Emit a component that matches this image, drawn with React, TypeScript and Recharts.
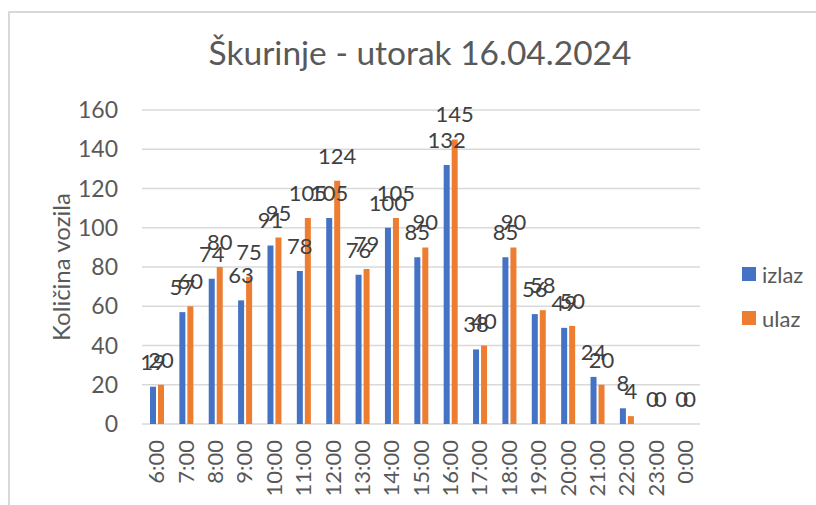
import React from "react";
import { BarChart, Bar, XAxis, YAxis, CartesianGrid, Legend, LabelList } from "recharts";

const categories = ["6:00","7:00","8:00","9:00","10:00","11:00","12:00","13:00","14:00","15:00","16:00","17:00","18:00","19:00","20:00","21:00","22:00","23:00","0:00"];
const izlaz = [19,57,74,63,91,78,105,76,100,85,132,38,85,56,49,24,8,0,0];
const ulaz = [20,60,80,75,95,105,124,79,105,90,145,40,90,58,50,20,4,0,0];
const yTicks = [0,20,40,60,80,100,120,140,160];

const seriesNames = ["izlaz", "ulaz"];
const colors = ["#4472C4", "#ED7D31"];
const FONT = "Lato, 'Liberation Sans', sans-serif";

const data = categories.map((c, i) => ({ cat: c, izlaz: izlaz[i], ulaz: ulaz[i] }));

const XTick = (props: any) => {
  const { x, y, payload } = props;
  return (
    <g transform={`translate(${x},${y})`}>
      <text transform="rotate(-90)" x={0} y={0} dy="0.35em" textAnchor="end" fill="#595959" fontSize={22} fontFamily={FONT}>
        {payload.value}
      </text>
    </g>
  );
};

const BarLabel = (props: any) => {
  const { x, y, width, value } = props;
  if (value === undefined || value === null) return null;
  return (
    <text x={Number(x) + Number(width) / 2} y={Number(y) - 17} textAnchor="middle" fill="#404040" fontSize={22} fontFamily={FONT}>
      {String(value)}
    </text>
  );
};

const LegendContent = () => (
  <div style={{ fontFamily: FONT, fontSize: 22, color: "#595959" }}>
    {seriesNames.map((n, i) => (
      <div key={n} style={{ display: "flex", alignItems: "center", height: 26, marginBottom: i === 0 ? 18 : 0 }}>
        <span style={{ display: "inline-block", width: 14, height: 14, background: colors[i], marginRight: 6 }} />
        <span>{n}</span>
      </div>
    ))}
  </div>
);

export default function App() {
  return (
    <div style={{ position: "fixed", left: 0, top: 0, width: 816, height: 505, background: "#fff", overflow: "hidden" }}>
      <div style={{ position: "absolute", left: 8, top: 11, width: 900, height: 600, borderLeft: "2px solid #d9d9d9", borderTop: "2px solid #d9d9d9" }} />
      <div style={{ position: "absolute", left: 0, top: 31, width: 840, textAlign: "center", fontFamily: FONT, fontSize: 33.5, color: "#595959", lineHeight: "42px" }}>
        Škurinje - utorak 16.04.2024
      </div>
      <div style={{ position: "absolute", left: 0, top: 0 }}>
        <BarChart width={816} height={505} data={data} margin={{ top: 110, right: 116, left: 20, bottom: 0 }} barSize={6} barGap={2}>
          <CartesianGrid vertical={false} stroke="#d9d9d9" strokeWidth={1.5} />
          <XAxis dataKey="cat" axisLine={false} tickLine={false} height={81} interval={0} tick={<XTick />} tickMargin={10} />
          <YAxis
            domain={[0, 160]}
            ticks={yTicks}
            axisLine={false}
            tickLine={false}
            width={122}
            tickMargin={18}
            tick={{ fill: "#595959", fontSize: 23, fontFamily: FONT }}
            label={{
              content: (p: any) => {
                const vb = p.viewBox;
                const cx = 60;
                const cy = vb.y + vb.height / 2;
                return (
                  <text x={cx} y={cy} transform={`rotate(-90, ${cx}, ${cy})`} textAnchor="middle" dominantBaseline="central" fill="#595959" fontSize={24} fontFamily={FONT}>
                    Količina vozila
                  </text>
                );
              },
            }}
          />
          <Legend layout="vertical" align="center" verticalAlign="middle" content={<LegendContent />} wrapperStyle={{ left: 742, top: 261, width: 74 }} />
          <Bar dataKey="izlaz" name="izlaz" fill={colors[0]} minPointSize={0.01} isAnimationActive={false}>
            <LabelList dataKey="izlaz" content={<BarLabel />} />
          </Bar>
          <Bar dataKey="ulaz" name="ulaz" fill={colors[1]} minPointSize={0.01} isAnimationActive={false}>
            <LabelList dataKey="ulaz" content={<BarLabel />} />
          </Bar>
        </BarChart>
      </div>
    </div>
  );
}
